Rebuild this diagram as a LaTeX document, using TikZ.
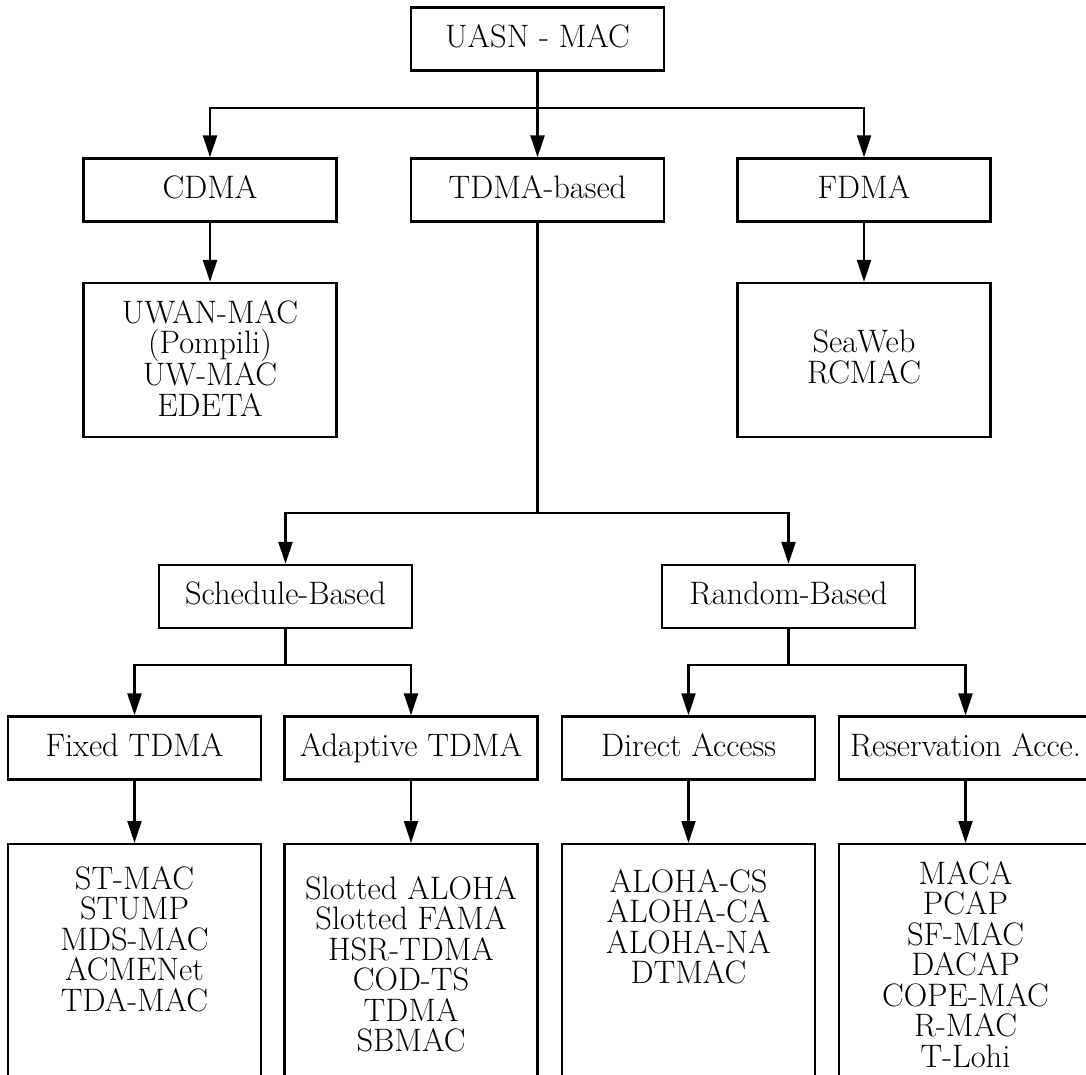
\documentclass[tikz,border=0pt]{standalone}
\usetikzlibrary{arrows.meta}
\begin{document}
\begin{tikzpicture}[x=1pt,y=-1pt,
  box/.style={draw, line width=2.3pt, minimum width=253pt, minimum height=63pt,
    inner sep=0pt, font=\fontsize{32.5}{30.5}\selectfont, text height=22pt, text depth=6pt},
  listbox/.style={draw, line width=2.3pt, minimum width=253pt, minimum height=154pt, inner sep=0pt},
  list/.style={anchor=north, inner sep=0pt, align=center, font=\fontsize{32.5}{30.5}\selectfont},
  link/.style={line width=2.2pt, line join=miter},
  tip/.tip={Triangle[length=22pt,width=14pt]},
  arr/.style={link, -tip},
  arrtwo/.style={link, tip-tip}]
\useasboundingbox (0,0) rectangle (1086,1074);
\clip (0,0) rectangle (1086,1074);

% top levels
\node[box] (root) at (537.5,39) {UASN - MAC};
\node[box] (cdma) at (210,190) {CDMA};
\node[box] (tdma) at (537.5,190) {TDMA-based};
\node[box] (fdma) at (864,190) {FDMA};

\node[listbox] (cdmalist) at (210,360) {};
\node[list] (cdmatext) at (210,300) {\rule{0pt}{22pt}UWAN-MAC\\(Pompili)\\UW-MAC\\EDETA};
\node[listbox] (fdmalist) at (864,360) {};
\node[list] (fdmatext) at (864,330) {\rule{0pt}{22pt}SeaWeb\\RCMAC};

% TDMA branch
\node[box] (sched) at (285.5,596.5) {Schedule-Based};
\node[box] (rand) at (788.5,596.5) {Random-Based};

\node[box] (fixed) at (134.5,748) {Fixed TDMA};
\node[box] (adapt) at (411,748) {Adaptive TDMA};
\node[box] (direct) at (688.5,748) {Direct Access};
\node[box] (reserv) at (965.5,748) {Reservation Acce.};

\node[listbox, minimum height=260pt, anchor=north] (fixedlist) at (134.5,843) {};
\node[listbox, minimum height=260pt, anchor=north] (adaptlist) at (411,843) {};
\node[listbox, minimum height=260pt, anchor=north] (directlist) at (688.5,843) {};
\node[listbox, minimum height=260pt, anchor=north] (reservlist) at (965.5,843) {};

\node[list] (fixedtext) at (134.5,866) {\rule{0pt}{22pt}ST-MAC\\STUMP\\MDS-MAC\\ACMENet\\TDA-MAC};
\node[list] (adapttext) at (411,876) {\rule{0pt}{22pt}Slotted ALOHA\\Slotted FAMA\\HSR-TDMA\\COD-TS\\TDMA\\SBMAC};
\node[list] (directtext) at (688.5,869) {\rule{0pt}{22pt}ALOHA-CS\\ALOHA-CA\\ALOHA-NA\\DTMAC};
\node[list] (reservtext) at (965.5,861) {\rule{0pt}{22pt}MACA\\PCAP\\SF-MAC\\DACAP\\COPE-MAC\\R-MAC\\T-Lohi};

% bus lines
\coordinate (bus1) at (537.5,108);
\coordinate (bus2) at (537.5,513);
\coordinate (bus3) at (285.5,665);
\coordinate (bus4) at (788.5,665);

% connectors
\draw[arrtwo] (cdma.north) -- (cdma.north |- bus1) -- (fdma.north |- bus1) -- (fdma.north);
\draw[arr] (root.south) -- (tdma.north);
\draw[arr] (cdma) -- (cdmalist);
\draw[arr] (fdma) -- (fdmalist);

\draw[link] (tdma.south) -- (bus2);
\draw[arrtwo] (sched.north) -- (sched.north |- bus2) -- (rand.north |- bus2) -- (rand.north);

\draw[link] (sched.south) -- (bus3);
\draw[arrtwo] (fixed.north) -- (fixed.north |- bus3) -- (adapt.north |- bus3) -- (adapt.north);
\draw[link] (rand.south) -- (bus4);
\draw[arrtwo] (direct.north) -- (direct.north |- bus4) -- (reserv.north |- bus4) -- (reserv.north);

\draw[arr] (fixed) -- (fixedlist);
\draw[arr] (adapt) -- (adaptlist);
\draw[arr] (direct) -- (directlist);
\draw[arr] (reserv) -- (reservlist);
\end{tikzpicture}
\end{document}
